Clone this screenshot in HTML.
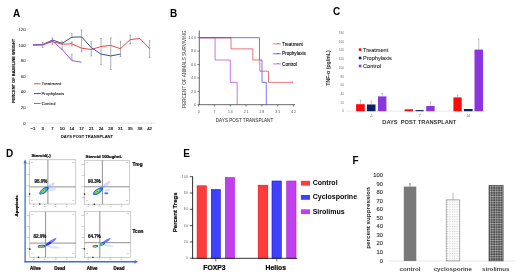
<!DOCTYPE html>
<html><head><meta charset="utf-8"><style>
html,body{margin:0;padding:0;background:#fff;overflow:hidden;}
svg{display:block;font-family:"Liberation Sans", sans-serif;}
text{-webkit-font-smoothing:antialiased;}
</style></head><body>
<svg style="will-change:transform" width="520" height="276" viewBox="0 0 520 276" font-family='"Liberation Sans", sans-serif'>
<defs><filter id="soft" x="-20%" y="-20%" width="140%" height="140%"><feGaussianBlur stdDeviation="0.35"/></filter></defs>
<rect width="520" height="276" fill="#fff"/>
<text x="13.00" y="17.20" font-size="10" text-anchor="start" font-weight="bold" fill="#000" >A</text>
<text x="25.50" y="124.50" font-size="4.2" text-anchor="end" font-weight="normal" fill="#444" stroke="#444" stroke-width="0.1">0</text>
<line x1="27.00" y1="123.00" x2="28.60" y2="123.00" stroke="#bbb" stroke-width="0.4" />
<text x="25.50" y="108.90" font-size="4.2" text-anchor="end" font-weight="normal" fill="#444" stroke="#444" stroke-width="0.1">20</text>
<line x1="27.00" y1="107.40" x2="28.60" y2="107.40" stroke="#bbb" stroke-width="0.4" />
<text x="25.50" y="93.30" font-size="4.2" text-anchor="end" font-weight="normal" fill="#444" stroke="#444" stroke-width="0.1">40</text>
<line x1="27.00" y1="91.80" x2="28.60" y2="91.80" stroke="#bbb" stroke-width="0.4" />
<text x="25.50" y="77.70" font-size="4.2" text-anchor="end" font-weight="normal" fill="#444" stroke="#444" stroke-width="0.1">60</text>
<line x1="27.00" y1="76.20" x2="28.60" y2="76.20" stroke="#bbb" stroke-width="0.4" />
<text x="25.50" y="62.10" font-size="4.2" text-anchor="end" font-weight="normal" fill="#444" stroke="#444" stroke-width="0.1">80</text>
<line x1="27.00" y1="60.60" x2="28.60" y2="60.60" stroke="#bbb" stroke-width="0.4" />
<text x="25.50" y="46.50" font-size="4.2" text-anchor="end" font-weight="normal" fill="#444" stroke="#444" stroke-width="0.1">100</text>
<line x1="27.00" y1="45.00" x2="28.60" y2="45.00" stroke="#bbb" stroke-width="0.4" />
<text x="25.50" y="30.90" font-size="4.2" text-anchor="end" font-weight="normal" fill="#444" stroke="#444" stroke-width="0.1">120</text>
<line x1="27.00" y1="29.40" x2="28.60" y2="29.40" stroke="#bbb" stroke-width="0.4" />
<line x1="28.60" y1="123.00" x2="155.50" y2="123.00" stroke="#d0d0d0" stroke-width="0.6" />
<text x="33.00" y="130.30" font-size="4.3" text-anchor="middle" font-weight="normal" fill="#222" stroke="#222" stroke-width="0.2">−1</text>
<text x="42.72" y="130.30" font-size="4.3" text-anchor="middle" font-weight="normal" fill="#222" stroke="#222" stroke-width="0.2">3</text>
<text x="52.44" y="130.30" font-size="4.3" text-anchor="middle" font-weight="normal" fill="#222" stroke="#222" stroke-width="0.2">7</text>
<text x="62.16" y="130.30" font-size="4.3" text-anchor="middle" font-weight="normal" fill="#222" stroke="#222" stroke-width="0.2">10</text>
<text x="71.88" y="130.30" font-size="4.3" text-anchor="middle" font-weight="normal" fill="#222" stroke="#222" stroke-width="0.2">14</text>
<text x="81.60" y="130.30" font-size="4.3" text-anchor="middle" font-weight="normal" fill="#222" stroke="#222" stroke-width="0.2">17</text>
<text x="91.32" y="130.30" font-size="4.3" text-anchor="middle" font-weight="normal" fill="#222" stroke="#222" stroke-width="0.2">21</text>
<text x="101.04" y="130.30" font-size="4.3" text-anchor="middle" font-weight="normal" fill="#222" stroke="#222" stroke-width="0.2">24</text>
<text x="110.76" y="130.30" font-size="4.3" text-anchor="middle" font-weight="normal" fill="#222" stroke="#222" stroke-width="0.2">28</text>
<text x="120.48" y="130.30" font-size="4.3" text-anchor="middle" font-weight="normal" fill="#222" stroke="#222" stroke-width="0.2">31</text>
<text x="130.20" y="130.30" font-size="4.3" text-anchor="middle" font-weight="normal" fill="#222" stroke="#222" stroke-width="0.2">35</text>
<text x="139.92" y="130.30" font-size="4.3" text-anchor="middle" font-weight="normal" fill="#222" stroke="#222" stroke-width="0.2">38</text>
<text x="149.64" y="130.30" font-size="4.3" text-anchor="middle" font-weight="normal" fill="#222" stroke="#222" stroke-width="0.2">42</text>
<text x="87.00" y="138.30" font-size="4.1" text-anchor="middle" font-weight="bold" fill="#000" >DAYS POST TRANSPLANT</text>
<text transform="translate(14.80,71.00) rotate(-90)" font-size="4.0" text-anchor="middle" font-weight="bold" fill="#000" stroke="#000" stroke-width="0.12">PERCENT OF BASELINE WEIGHT</text>
<line x1="42.72" y1="42.50" x2="42.72" y2="47.50" stroke="#7a7a7a" stroke-width="0.6" />
<line x1="41.92" y1="42.50" x2="43.52" y2="42.50" stroke="#7a7a7a" stroke-width="0.6" />
<line x1="41.92" y1="47.50" x2="43.52" y2="47.50" stroke="#7a7a7a" stroke-width="0.6" />
<line x1="52.44" y1="38.00" x2="52.44" y2="44.50" stroke="#7a7a7a" stroke-width="0.6" />
<line x1="51.64" y1="38.00" x2="53.24" y2="38.00" stroke="#7a7a7a" stroke-width="0.6" />
<line x1="51.64" y1="44.50" x2="53.24" y2="44.50" stroke="#7a7a7a" stroke-width="0.6" />
<line x1="62.16" y1="41.20" x2="62.16" y2="49.10" stroke="#7a7a7a" stroke-width="0.6" />
<line x1="61.36" y1="41.20" x2="62.96" y2="41.20" stroke="#7a7a7a" stroke-width="0.6" />
<line x1="61.36" y1="49.10" x2="62.96" y2="49.10" stroke="#7a7a7a" stroke-width="0.6" />
<line x1="71.88" y1="33.60" x2="71.88" y2="37.70" stroke="#7a7a7a" stroke-width="0.6" />
<line x1="71.08" y1="33.60" x2="72.68" y2="33.60" stroke="#7a7a7a" stroke-width="0.6" />
<line x1="71.08" y1="37.70" x2="72.68" y2="37.70" stroke="#7a7a7a" stroke-width="0.6" />
<line x1="71.88" y1="42.00" x2="71.88" y2="46.00" stroke="#7a7a7a" stroke-width="0.6" />
<line x1="71.08" y1="42.00" x2="72.68" y2="42.00" stroke="#7a7a7a" stroke-width="0.6" />
<line x1="71.08" y1="46.00" x2="72.68" y2="46.00" stroke="#7a7a7a" stroke-width="0.6" />
<line x1="81.60" y1="29.80" x2="81.60" y2="51.60" stroke="#7a7a7a" stroke-width="0.6" />
<line x1="80.80" y1="29.80" x2="82.40" y2="29.80" stroke="#7a7a7a" stroke-width="0.6" />
<line x1="80.80" y1="51.60" x2="82.40" y2="51.60" stroke="#7a7a7a" stroke-width="0.6" />
<line x1="91.32" y1="41.70" x2="91.32" y2="55.90" stroke="#7a7a7a" stroke-width="0.6" />
<line x1="90.52" y1="41.70" x2="92.12" y2="41.70" stroke="#7a7a7a" stroke-width="0.6" />
<line x1="90.52" y1="55.90" x2="92.12" y2="55.90" stroke="#7a7a7a" stroke-width="0.6" />
<line x1="101.04" y1="38.50" x2="101.04" y2="64.60" stroke="#7a7a7a" stroke-width="0.6" />
<line x1="100.24" y1="38.50" x2="101.84" y2="38.50" stroke="#7a7a7a" stroke-width="0.6" />
<line x1="100.24" y1="64.60" x2="101.84" y2="64.60" stroke="#7a7a7a" stroke-width="0.6" />
<line x1="110.76" y1="37.80" x2="110.76" y2="69.60" stroke="#7a7a7a" stroke-width="0.6" />
<line x1="109.96" y1="37.80" x2="111.56" y2="37.80" stroke="#7a7a7a" stroke-width="0.6" />
<line x1="109.96" y1="69.60" x2="111.56" y2="69.60" stroke="#7a7a7a" stroke-width="0.6" />
<line x1="120.48" y1="41.30" x2="120.48" y2="56.50" stroke="#7a7a7a" stroke-width="0.6" />
<line x1="119.68" y1="41.30" x2="121.28" y2="41.30" stroke="#7a7a7a" stroke-width="0.6" />
<line x1="119.68" y1="56.50" x2="121.28" y2="56.50" stroke="#7a7a7a" stroke-width="0.6" />
<line x1="130.20" y1="35.20" x2="130.20" y2="43.90" stroke="#7a7a7a" stroke-width="0.6" />
<line x1="129.40" y1="35.20" x2="131.00" y2="35.20" stroke="#7a7a7a" stroke-width="0.6" />
<line x1="129.40" y1="43.90" x2="131.00" y2="43.90" stroke="#7a7a7a" stroke-width="0.6" />
<line x1="149.64" y1="40.60" x2="149.64" y2="57.40" stroke="#7a7a7a" stroke-width="0.6" />
<line x1="148.84" y1="40.60" x2="150.44" y2="40.60" stroke="#7a7a7a" stroke-width="0.6" />
<line x1="148.84" y1="57.40" x2="150.44" y2="57.40" stroke="#7a7a7a" stroke-width="0.6" />
<line x1="71.88" y1="54.40" x2="71.88" y2="60.00" stroke="#7a7a7a" stroke-width="0.6" />
<line x1="71.08" y1="54.40" x2="72.68" y2="54.40" stroke="#7a7a7a" stroke-width="0.6" />
<line x1="71.08" y1="60.00" x2="72.68" y2="60.00" stroke="#7a7a7a" stroke-width="0.6" />
<polyline points="33.00,44.90 42.72,45.00 52.44,41.60 62.16,44.20 71.88,43.80 81.60,48.20 91.32,49.50 101.04,46.50 110.76,45.40 120.48,48.70 130.20,39.60 139.92,38.50 149.64,48.70" stroke="#e8474a" stroke-width="1.0" fill="none" stroke-linejoin="round" />
<polyline points="33.00,44.90 42.72,44.60 52.44,40.00 62.16,43.30 71.88,37.20 81.60,36.90 91.32,47.60 101.04,54.10 110.76,55.90 120.48,54.10" stroke="#3a4f8f" stroke-width="1.0" fill="none" stroke-linejoin="round" />
<polyline points="33.00,44.90 42.72,44.60 52.44,41.00 62.16,49.50 71.88,60.60 81.60,62.20" stroke="#9a5ce0" stroke-width="1.0" fill="none" stroke-linejoin="round" />
<line x1="34.00" y1="83.80" x2="40.60" y2="83.80" stroke="#e8474a" stroke-width="1.0" />
<text x="41.40" y="85.40" font-size="4.4" text-anchor="start" font-weight="normal" fill="#2a2a2a" stroke="#2a2a2a" stroke-width="0.12">Treatment</text>
<line x1="34.00" y1="93.60" x2="40.60" y2="93.60" stroke="#3a4f8f" stroke-width="1.0" />
<text x="41.40" y="95.20" font-size="4.4" text-anchor="start" font-weight="normal" fill="#2a2a2a" stroke="#2a2a2a" stroke-width="0.12">Prophylaxis</text>
<line x1="34.00" y1="103.50" x2="40.60" y2="103.50" stroke="#9a5ce0" stroke-width="1.0" />
<text x="41.40" y="105.10" font-size="4.4" text-anchor="start" font-weight="normal" fill="#2a2a2a" stroke="#2a2a2a" stroke-width="0.12">Control</text>
<text x="170.00" y="17.30" font-size="10" text-anchor="start" font-weight="bold" fill="#000" >B</text>
<line x1="199.30" y1="30.50" x2="199.30" y2="104.70" stroke="#000" stroke-width="0.6" />
<line x1="199.30" y1="104.70" x2="295.00" y2="104.70" stroke="#000" stroke-width="0.6" />
<line x1="197.50" y1="104.70" x2="199.30" y2="104.70" stroke="#000" stroke-width="0.5" />
<text x="196.00" y="105.90" font-size="3.4" text-anchor="end" font-weight="normal" fill="#444" >0</text>
<line x1="197.50" y1="91.30" x2="199.30" y2="91.30" stroke="#000" stroke-width="0.5" />
<text x="196.00" y="92.50" font-size="3.4" text-anchor="end" font-weight="normal" fill="#444" >2 0</text>
<line x1="197.50" y1="77.90" x2="199.30" y2="77.90" stroke="#000" stroke-width="0.5" />
<text x="196.00" y="79.10" font-size="3.4" text-anchor="end" font-weight="normal" fill="#444" >4 0</text>
<line x1="197.50" y1="64.50" x2="199.30" y2="64.50" stroke="#000" stroke-width="0.5" />
<text x="196.00" y="65.70" font-size="3.4" text-anchor="end" font-weight="normal" fill="#444" >6 0</text>
<line x1="197.50" y1="51.10" x2="199.30" y2="51.10" stroke="#000" stroke-width="0.5" />
<text x="196.00" y="52.30" font-size="3.4" text-anchor="end" font-weight="normal" fill="#444" >8 0</text>
<line x1="197.50" y1="37.70" x2="199.30" y2="37.70" stroke="#000" stroke-width="0.5" />
<text x="196.00" y="38.90" font-size="3.4" text-anchor="end" font-weight="normal" fill="#444" >1 0 0</text>
<line x1="198.60" y1="104.70" x2="198.60" y2="106.50" stroke="#000" stroke-width="0.5" />
<text x="198.60" y="113.20" font-size="3.4" text-anchor="middle" font-weight="normal" fill="#444" >0</text>
<line x1="214.42" y1="104.70" x2="214.42" y2="106.50" stroke="#000" stroke-width="0.5" />
<text x="214.42" y="113.20" font-size="3.4" text-anchor="middle" font-weight="normal" fill="#444" >7</text>
<line x1="230.24" y1="104.70" x2="230.24" y2="106.50" stroke="#000" stroke-width="0.5" />
<text x="230.24" y="113.20" font-size="3.4" text-anchor="middle" font-weight="normal" fill="#444" >1 4</text>
<line x1="246.06" y1="104.70" x2="246.06" y2="106.50" stroke="#000" stroke-width="0.5" />
<text x="246.06" y="113.20" font-size="3.4" text-anchor="middle" font-weight="normal" fill="#444" >2 1</text>
<line x1="261.88" y1="104.70" x2="261.88" y2="106.50" stroke="#000" stroke-width="0.5" />
<text x="261.88" y="113.20" font-size="3.4" text-anchor="middle" font-weight="normal" fill="#444" >2 8</text>
<line x1="277.70" y1="104.70" x2="277.70" y2="106.50" stroke="#000" stroke-width="0.5" />
<text x="277.70" y="113.20" font-size="3.4" text-anchor="middle" font-weight="normal" fill="#444" >3 5</text>
<line x1="293.52" y1="104.70" x2="293.52" y2="106.50" stroke="#000" stroke-width="0.5" />
<text x="293.52" y="113.20" font-size="3.4" text-anchor="middle" font-weight="normal" fill="#444" >4 2</text>
<text x="244.50" y="121.50" font-size="4.6" text-anchor="middle" font-weight="normal" fill="#222" >DAYS POST TRANSPLANT</text>
<text transform="translate(185.80,69.30) rotate(-90)" font-size="4.6" text-anchor="middle" font-weight="normal" fill="#3a3a3a" >PERCENT OF ANIMALS SURVIVING</text>
<polyline points="199.30,37.70 259.50,37.70 259.50,60.03 262.00,60.03 262.00,82.37 266.30,82.37 266.30,104.70" stroke="#4848f0" stroke-width="0.75" fill="none" stroke-linejoin="round" />
<polyline points="199.30,37.70 215.10,37.70 215.10,60.03 230.30,60.03 230.30,82.37 237.20,82.37 237.20,104.70" stroke="#b848e0" stroke-width="0.75" fill="none" stroke-linejoin="round" />
<polyline points="199.30,37.70 231.00,37.70 231.00,48.87 252.80,48.87 252.80,60.03 259.80,60.03 259.80,71.20 268.50,71.20 268.50,82.37 292.40,82.37" stroke="#e8474a" stroke-width="0.75" fill="none" stroke-linejoin="round" />
<line x1="292.40" y1="81.37" x2="292.40" y2="83.37" stroke="#e8474a" stroke-width="0.6" />
<line x1="199.60" y1="37.70" x2="231.00" y2="37.70" stroke="#b03c70" stroke-width="0.8" />
<line x1="272.80" y1="43.90" x2="280.80" y2="43.90" stroke="#e8474a" stroke-width="0.7" />
<polyline points="277.00,44.10 277.90,43.00 278.80,44.10" stroke="#e8474a" stroke-width="0.6" fill="none" stroke-linejoin="round" />
<text x="282.10" y="45.55" font-size="4.6" text-anchor="start" font-weight="normal" fill="#111" stroke="#111" stroke-width="0.12">Treatment</text>
<line x1="272.80" y1="53.80" x2="280.80" y2="53.80" stroke="#3b3bf0" stroke-width="0.7" />
<polyline points="277.00,54.00 277.90,52.90 278.80,54.00" stroke="#3b3bf0" stroke-width="0.6" fill="none" stroke-linejoin="round" />
<text x="282.10" y="55.45" font-size="4.6" text-anchor="start" font-weight="normal" fill="#111" stroke="#111" stroke-width="0.12">Prophylaxis</text>
<line x1="272.80" y1="63.90" x2="280.80" y2="63.90" stroke="#b040e0" stroke-width="0.7" />
<polyline points="277.00,64.10 277.90,63.00 278.80,64.10" stroke="#b040e0" stroke-width="0.6" fill="none" stroke-linejoin="round" />
<text x="282.10" y="65.55" font-size="4.6" text-anchor="start" font-weight="normal" fill="#111" stroke="#111" stroke-width="0.12">Control</text>
<text x="333.00" y="15.30" font-size="10" text-anchor="start" font-weight="bold" fill="#000" >C</text>
<text x="344.00" y="112.40" font-size="3.2" text-anchor="end" font-weight="normal" fill="#777" >0</text>
<text x="344.00" y="103.68" font-size="3.2" text-anchor="end" font-weight="normal" fill="#777" >20</text>
<text x="344.00" y="94.96" font-size="3.2" text-anchor="end" font-weight="normal" fill="#777" >40</text>
<text x="344.00" y="86.24" font-size="3.2" text-anchor="end" font-weight="normal" fill="#777" >60</text>
<text x="344.00" y="77.52" font-size="3.2" text-anchor="end" font-weight="normal" fill="#777" >80</text>
<text x="344.00" y="68.80" font-size="3.2" text-anchor="end" font-weight="normal" fill="#777" >100</text>
<text x="344.00" y="60.08" font-size="3.2" text-anchor="end" font-weight="normal" fill="#777" >120</text>
<text x="344.00" y="51.36" font-size="3.2" text-anchor="end" font-weight="normal" fill="#777" >140</text>
<text x="344.00" y="42.64" font-size="3.2" text-anchor="end" font-weight="normal" fill="#777" >160</text>
<text x="344.00" y="33.92" font-size="3.2" text-anchor="end" font-weight="normal" fill="#777" >180</text>
<line x1="346.60" y1="111.20" x2="487.00" y2="111.20" stroke="#dcdcdc" stroke-width="0.6" />
<text transform="translate(329.50,68.00) rotate(-90)" font-size="5.2" text-anchor="middle" font-weight="bold" fill="#333" >TNF-α (pg/mL)</text>
<line x1="360.45" y1="100.20" x2="360.45" y2="104.20" stroke="#888" stroke-width="0.5" />
<line x1="359.65" y1="100.20" x2="361.25" y2="100.20" stroke="#888" stroke-width="0.5" />
<rect x="356.10" y="104.20" width="8.70" height="7.00" fill="#ff0a0a" />
<line x1="371.25" y1="101.00" x2="371.25" y2="104.50" stroke="#888" stroke-width="0.5" />
<line x1="370.45" y1="101.00" x2="372.05" y2="101.00" stroke="#888" stroke-width="0.5" />
<rect x="367.00" y="104.50" width="8.50" height="6.70" fill="#0d1f63" />
<line x1="382.20" y1="93.50" x2="382.20" y2="96.40" stroke="#888" stroke-width="0.5" />
<line x1="381.40" y1="93.50" x2="383.00" y2="93.50" stroke="#888" stroke-width="0.5" />
<rect x="378.00" y="96.40" width="8.40" height="14.80" fill="#8a35dd" />
<rect x="404.60" y="109.30" width="8.40" height="1.90" fill="#ff0a0a" />
<rect x="415.50" y="110.10" width="8.20" height="1.10" fill="#0d1f63" />
<line x1="430.40" y1="101.70" x2="430.40" y2="106.00" stroke="#888" stroke-width="0.5" />
<line x1="429.60" y1="101.70" x2="431.20" y2="101.70" stroke="#888" stroke-width="0.5" />
<rect x="426.20" y="106.00" width="8.40" height="5.20" fill="#8a35dd" />
<line x1="457.55" y1="95.00" x2="457.55" y2="97.40" stroke="#888" stroke-width="0.5" />
<line x1="456.75" y1="95.00" x2="458.35" y2="95.00" stroke="#888" stroke-width="0.5" />
<rect x="453.40" y="97.40" width="8.30" height="13.80" fill="#ff0a0a" />
<rect x="463.90" y="109.00" width="8.70" height="2.20" fill="#0d1f63" />
<line x1="478.75" y1="39.00" x2="478.75" y2="49.60" stroke="#888" stroke-width="0.5" />
<line x1="477.95" y1="39.00" x2="479.55" y2="39.00" stroke="#888" stroke-width="0.5" />
<rect x="474.50" y="49.60" width="8.50" height="61.60" fill="#8a35dd" />
<text x="371.30" y="117.00" font-size="3.2" text-anchor="middle" font-weight="normal" fill="#555" >-1</text>
<text x="419.80" y="117.00" font-size="3.2" text-anchor="middle" font-weight="normal" fill="#555" >7</text>
<text x="468.30" y="117.00" font-size="3.2" text-anchor="middle" font-weight="normal" fill="#555" >14</text>
<text x="382.30" y="124.30" font-size="5.7" text-anchor="start" font-weight="bold" fill="#333" >DAYS&#160;&#160;POST TRANSPLANT</text>
<rect x="358.80" y="48.30" width="2.60" height="2.60" fill="#ff0a0a" />
<text x="363.00" y="51.60" font-size="5.6" text-anchor="start" font-weight="normal" fill="#2a2a2a" stroke="#2a2a2a" stroke-width="0.1">Treatment</text>
<rect x="358.80" y="56.70" width="2.60" height="2.60" fill="#0d1f63" />
<text x="363.00" y="60.00" font-size="5.6" text-anchor="start" font-weight="normal" fill="#2a2a2a" stroke="#2a2a2a" stroke-width="0.1">Prophylaxis</text>
<rect x="358.80" y="64.70" width="2.60" height="2.60" fill="#8a35dd" />
<text x="363.00" y="68.00" font-size="5.6" text-anchor="start" font-weight="normal" fill="#2a2a2a" stroke="#2a2a2a" stroke-width="0.1">Control</text>
<text x="6.00" y="157.20" font-size="10" text-anchor="start" font-weight="bold" fill="#000" >D</text>
<line x1="25.10" y1="162.00" x2="25.10" y2="262.40" stroke="#3b6fd4" stroke-width="1.3" />
<line x1="24.45" y1="261.80" x2="135.50" y2="261.80" stroke="#3b6fd4" stroke-width="1.4" />
<polygon points="25.1,159.2 23.5,163.2 26.7,163.2" fill="#3b6fd4"/>
<polygon points="138.0,261.8 134.6,259.9 134.6,263.7" fill="#3b6fd4"/>
<text x="31.40" y="157.00" font-size="4.35" text-anchor="start" font-weight="bold" fill="#000" stroke="#000" stroke-width="0.2">Steroid(-)</text>
<text x="85.60" y="157.70" font-size="4.35" text-anchor="start" font-weight="bold" fill="#000" stroke="#000" stroke-width="0.2">Steroid 100ug/mL</text>
<text transform="translate(17.90,205.90) rotate(-90)" font-size="4.3" text-anchor="middle" font-weight="bold" fill="#000" stroke="#000" stroke-width="0.2">Apoptosis</text>
<text x="132.60" y="166.30" font-size="4.7" text-anchor="start" font-weight="bold" fill="#000" stroke="#000" stroke-width="0.2">Treg</text>
<text x="132.60" y="233.10" font-size="4.7" text-anchor="start" font-weight="bold" fill="#000" stroke="#000" stroke-width="0.2">Tcon</text>
<rect x="29.60" y="159.80" width="46.20" height="44.20" fill="none" stroke="#9a9a9a" stroke-width="0.5"/>
<line x1="47.90" y1="159.80" x2="47.90" y2="204.00" stroke="#858585" stroke-width="0.9" />
<line x1="29.60" y1="186.90" x2="75.80" y2="186.90" stroke="#858585" stroke-width="0.9" />
<line x1="28.60" y1="163.80" x2="29.60" y2="163.80" stroke="#666" stroke-width="0.4" />
<text x="28.40" y="164.40" font-size="1.6" text-anchor="end" font-weight="normal" fill="#777" >10</text>
<line x1="28.60" y1="174.80" x2="29.60" y2="174.80" stroke="#666" stroke-width="0.4" />
<text x="28.40" y="175.40" font-size="1.6" text-anchor="end" font-weight="normal" fill="#777" >10</text>
<line x1="28.60" y1="185.80" x2="29.60" y2="185.80" stroke="#666" stroke-width="0.4" />
<text x="28.40" y="186.40" font-size="1.6" text-anchor="end" font-weight="normal" fill="#777" >10</text>
<line x1="28.60" y1="196.80" x2="29.60" y2="196.80" stroke="#666" stroke-width="0.4" />
<text x="28.40" y="197.40" font-size="1.6" text-anchor="end" font-weight="normal" fill="#777" >10</text>
<line x1="33.60" y1="204.00" x2="33.60" y2="205.00" stroke="#666" stroke-width="0.4" />
<text x="33.60" y="206.60" font-size="1.6" text-anchor="middle" font-weight="normal" fill="#777" >10</text>
<line x1="44.60" y1="204.00" x2="44.60" y2="205.00" stroke="#666" stroke-width="0.4" />
<text x="44.60" y="206.60" font-size="1.6" text-anchor="middle" font-weight="normal" fill="#777" >10</text>
<line x1="55.60" y1="204.00" x2="55.60" y2="205.00" stroke="#666" stroke-width="0.4" />
<text x="55.60" y="206.60" font-size="1.6" text-anchor="middle" font-weight="normal" fill="#777" >10</text>
<line x1="66.60" y1="204.00" x2="66.60" y2="205.00" stroke="#666" stroke-width="0.4" />
<text x="66.60" y="206.60" font-size="1.6" text-anchor="middle" font-weight="normal" fill="#777" >10</text>
<text x="31.10" y="162.80" font-size="1.6" text-anchor="start" font-weight="normal" fill="#888" >Q1</text>
<text x="74.30" y="162.80" font-size="1.6" text-anchor="end" font-weight="normal" fill="#888" >Q2</text>
<text x="31.10" y="200.80" font-size="1.6" text-anchor="start" font-weight="normal" fill="#888" >Q4</text>
<text x="74.30" y="200.80" font-size="1.6" text-anchor="end" font-weight="normal" fill="#888" >Q3</text>
<text x="34.60" y="182.60" font-size="4.5" text-anchor="start" font-weight="bold" fill="#111" stroke="#111" stroke-width="0.2">95.0%</text>
<rect x="28.90" y="193.38" width="1.40" height="1.40" fill="#222" />
<rect x="38.96" y="203.40" width="1.40" height="1.20" fill="#222" />
<g filter="url(#soft)">
<ellipse cx="0" cy="0" rx="5.5" ry="1.6" fill="#8fa0ff" opacity="0.35" transform="translate(50.50,186.00) rotate(-40)"/>
<ellipse cx="0" cy="0" rx="3.5" ry="1.4" fill="#a0b0ff" opacity="0.35" transform="translate(52.50,189.50) rotate(-10)"/>
<ellipse cx="0" cy="0" rx="5.6" ry="2.4" fill="#2a3cff" opacity="1.0" transform="translate(44.00,190.60) rotate(-37)"/>
<ellipse cx="0" cy="0" rx="4.367999999999999" ry="1.8239999999999998" fill="#12b4ee" opacity="1.0" transform="translate(43.70,190.75) rotate(-37)"/>
<ellipse cx="0" cy="0" rx="3.2479999999999998" ry="1.344" fill="#30d040" opacity="1.0" transform="translate(43.50,190.85) rotate(-37)"/>
<ellipse cx="0" cy="0" rx="2.016" ry="0.96" fill="#f0e020" opacity="1.0" transform="translate(43.30,190.90) rotate(-37)"/>
<ellipse cx="0" cy="0" rx="0.8959999999999999" ry="0.528" fill="#f03020" opacity="1.0" transform="translate(43.20,190.95) rotate(-37)"/>
</g>
<rect x="84.50" y="160.20" width="45.00" height="44.00" fill="none" stroke="#9a9a9a" stroke-width="0.5"/>
<line x1="102.40" y1="160.20" x2="102.40" y2="204.20" stroke="#858585" stroke-width="0.9" />
<line x1="84.50" y1="186.80" x2="129.50" y2="186.80" stroke="#858585" stroke-width="0.9" />
<line x1="83.50" y1="164.20" x2="84.50" y2="164.20" stroke="#666" stroke-width="0.4" />
<text x="83.30" y="164.80" font-size="1.6" text-anchor="end" font-weight="normal" fill="#777" >10</text>
<line x1="83.50" y1="175.20" x2="84.50" y2="175.20" stroke="#666" stroke-width="0.4" />
<text x="83.30" y="175.80" font-size="1.6" text-anchor="end" font-weight="normal" fill="#777" >10</text>
<line x1="83.50" y1="186.20" x2="84.50" y2="186.20" stroke="#666" stroke-width="0.4" />
<text x="83.30" y="186.80" font-size="1.6" text-anchor="end" font-weight="normal" fill="#777" >10</text>
<line x1="83.50" y1="197.20" x2="84.50" y2="197.20" stroke="#666" stroke-width="0.4" />
<text x="83.30" y="197.80" font-size="1.6" text-anchor="end" font-weight="normal" fill="#777" >10</text>
<line x1="88.50" y1="204.20" x2="88.50" y2="205.20" stroke="#666" stroke-width="0.4" />
<text x="88.50" y="206.80" font-size="1.6" text-anchor="middle" font-weight="normal" fill="#777" >10</text>
<line x1="99.50" y1="204.20" x2="99.50" y2="205.20" stroke="#666" stroke-width="0.4" />
<text x="99.50" y="206.80" font-size="1.6" text-anchor="middle" font-weight="normal" fill="#777" >10</text>
<line x1="110.50" y1="204.20" x2="110.50" y2="205.20" stroke="#666" stroke-width="0.4" />
<text x="110.50" y="206.80" font-size="1.6" text-anchor="middle" font-weight="normal" fill="#777" >10</text>
<line x1="121.50" y1="204.20" x2="121.50" y2="205.20" stroke="#666" stroke-width="0.4" />
<text x="121.50" y="206.80" font-size="1.6" text-anchor="middle" font-weight="normal" fill="#777" >10</text>
<text x="86.00" y="163.20" font-size="1.6" text-anchor="start" font-weight="normal" fill="#888" >Q1</text>
<text x="128.00" y="163.20" font-size="1.6" text-anchor="end" font-weight="normal" fill="#888" >Q2</text>
<text x="86.00" y="201.00" font-size="1.6" text-anchor="start" font-weight="normal" fill="#888" >Q4</text>
<text x="128.00" y="201.00" font-size="1.6" text-anchor="end" font-weight="normal" fill="#888" >Q3</text>
<text x="88.00" y="182.70" font-size="4.5" text-anchor="start" font-weight="bold" fill="#111" stroke="#111" stroke-width="0.2">90.3%</text>
<rect x="83.80" y="193.41" width="1.40" height="1.40" fill="#222" />
<rect x="93.64" y="203.60" width="1.40" height="1.20" fill="#222" />
<g filter="url(#soft)">
<ellipse cx="0" cy="0" rx="7.0" ry="1.5" fill="#8fa0ff" opacity="0.4" transform="translate(105.00,185.50) rotate(-40)"/>
<ellipse cx="0" cy="0" rx="2.2" ry="1.1" fill="#3050ff" opacity="0.8" transform="translate(106.30,193.30) rotate(0)"/>
<ellipse cx="0" cy="0" rx="3.0" ry="1.2" fill="#a0b0ff" opacity="0.4" transform="translate(107.50,190.00) rotate(-20)"/>
<ellipse cx="0" cy="0" rx="5.8" ry="2.5" fill="#2a3cff" opacity="1.0" transform="translate(98.00,191.20) rotate(-35)"/>
<ellipse cx="0" cy="0" rx="4.524" ry="1.9" fill="#12b4ee" opacity="1.0" transform="translate(97.70,191.35) rotate(-35)"/>
<ellipse cx="0" cy="0" rx="3.364" ry="1.4000000000000001" fill="#30d040" opacity="1.0" transform="translate(97.50,191.45) rotate(-35)"/>
<ellipse cx="0" cy="0" rx="2.088" ry="1.0" fill="#f0e020" opacity="1.0" transform="translate(97.30,191.50) rotate(-35)"/>
<ellipse cx="0" cy="0" rx="0.9279999999999999" ry="0.55" fill="#f03020" opacity="1.0" transform="translate(97.20,191.55) rotate(-35)"/>
</g>
<rect x="29.80" y="211.80" width="46.00" height="45.40" fill="none" stroke="#9a9a9a" stroke-width="0.5"/>
<line x1="45.60" y1="211.80" x2="45.60" y2="257.20" stroke="#858585" stroke-width="0.9" />
<line x1="29.80" y1="243.10" x2="75.80" y2="243.10" stroke="#858585" stroke-width="0.9" />
<line x1="28.80" y1="215.80" x2="29.80" y2="215.80" stroke="#666" stroke-width="0.4" />
<text x="28.60" y="216.40" font-size="1.6" text-anchor="end" font-weight="normal" fill="#777" >10</text>
<line x1="28.80" y1="226.80" x2="29.80" y2="226.80" stroke="#666" stroke-width="0.4" />
<text x="28.60" y="227.40" font-size="1.6" text-anchor="end" font-weight="normal" fill="#777" >10</text>
<line x1="28.80" y1="237.80" x2="29.80" y2="237.80" stroke="#666" stroke-width="0.4" />
<text x="28.60" y="238.40" font-size="1.6" text-anchor="end" font-weight="normal" fill="#777" >10</text>
<line x1="28.80" y1="248.80" x2="29.80" y2="248.80" stroke="#666" stroke-width="0.4" />
<text x="28.60" y="249.40" font-size="1.6" text-anchor="end" font-weight="normal" fill="#777" >10</text>
<line x1="33.80" y1="257.20" x2="33.80" y2="258.20" stroke="#666" stroke-width="0.4" />
<text x="33.80" y="259.80" font-size="1.6" text-anchor="middle" font-weight="normal" fill="#777" >10</text>
<line x1="44.80" y1="257.20" x2="44.80" y2="258.20" stroke="#666" stroke-width="0.4" />
<text x="44.80" y="259.80" font-size="1.6" text-anchor="middle" font-weight="normal" fill="#777" >10</text>
<line x1="55.80" y1="257.20" x2="55.80" y2="258.20" stroke="#666" stroke-width="0.4" />
<text x="55.80" y="259.80" font-size="1.6" text-anchor="middle" font-weight="normal" fill="#777" >10</text>
<line x1="66.80" y1="257.20" x2="66.80" y2="258.20" stroke="#666" stroke-width="0.4" />
<text x="66.80" y="259.80" font-size="1.6" text-anchor="middle" font-weight="normal" fill="#777" >10</text>
<text x="31.30" y="214.80" font-size="1.6" text-anchor="start" font-weight="normal" fill="#888" >Q1</text>
<text x="74.30" y="214.80" font-size="1.6" text-anchor="end" font-weight="normal" fill="#888" >Q2</text>
<text x="31.30" y="254.00" font-size="1.6" text-anchor="start" font-weight="normal" fill="#888" >Q4</text>
<text x="74.30" y="254.00" font-size="1.6" text-anchor="end" font-weight="normal" fill="#888" >Q3</text>
<text x="33.40" y="237.80" font-size="4.5" text-anchor="start" font-weight="bold" fill="#111" stroke="#111" stroke-width="0.2">82.0%</text>
<rect x="29.10" y="248.32" width="1.40" height="1.40" fill="#222" />
<rect x="37.79" y="256.60" width="1.40" height="1.20" fill="#222" />
<g filter="url(#soft)">
<ellipse cx="0" cy="0" rx="7.0" ry="1.2" fill="#a0b0ff" opacity="0.35" transform="translate(53.00,247.00) rotate(8)"/>
<ellipse cx="0" cy="0" rx="6.5" ry="1.3" fill="#4a64ff" opacity="0.85" transform="translate(51.00,241.80) rotate(-33)"/>
<ellipse cx="0" cy="0" rx="3.2" ry="1.2" fill="#1f35ff" opacity="1" transform="translate(48.50,243.80) rotate(-30)"/>
<ellipse cx="0" cy="0" rx="3.8" ry="1.5" fill="#2a3cff" opacity="1.0" transform="translate(41.60,246.30) rotate(-5)"/>
<ellipse cx="0" cy="0" rx="2.964" ry="1.1400000000000001" fill="#12b4ee" opacity="1.0" transform="translate(41.30,246.45) rotate(-5)"/>
<ellipse cx="0" cy="0" rx="2.2039999999999997" ry="0.8400000000000001" fill="#30d040" opacity="1.0" transform="translate(41.10,246.55) rotate(-5)"/>
<ellipse cx="0" cy="0" rx="1.3679999999999999" ry="0.6000000000000001" fill="#f0e020" opacity="1.0" transform="translate(40.90,246.60) rotate(-5)"/>
<ellipse cx="0" cy="0" rx="0.608" ry="0.33" fill="#f03020" opacity="1.0" transform="translate(40.80,246.65) rotate(-5)"/>
</g>
<rect x="84.40" y="211.40" width="46.10" height="45.90" fill="none" stroke="#9a9a9a" stroke-width="0.5"/>
<line x1="99.80" y1="211.40" x2="99.80" y2="257.30" stroke="#858585" stroke-width="0.9" />
<line x1="84.40" y1="242.70" x2="130.50" y2="242.70" stroke="#858585" stroke-width="0.9" />
<line x1="83.40" y1="215.40" x2="84.40" y2="215.40" stroke="#666" stroke-width="0.4" />
<text x="83.20" y="216.00" font-size="1.6" text-anchor="end" font-weight="normal" fill="#777" >10</text>
<line x1="83.40" y1="226.40" x2="84.40" y2="226.40" stroke="#666" stroke-width="0.4" />
<text x="83.20" y="227.00" font-size="1.6" text-anchor="end" font-weight="normal" fill="#777" >10</text>
<line x1="83.40" y1="237.40" x2="84.40" y2="237.40" stroke="#666" stroke-width="0.4" />
<text x="83.20" y="238.00" font-size="1.6" text-anchor="end" font-weight="normal" fill="#777" >10</text>
<line x1="83.40" y1="248.40" x2="84.40" y2="248.40" stroke="#666" stroke-width="0.4" />
<text x="83.20" y="249.00" font-size="1.6" text-anchor="end" font-weight="normal" fill="#777" >10</text>
<line x1="88.40" y1="257.30" x2="88.40" y2="258.30" stroke="#666" stroke-width="0.4" />
<text x="88.40" y="259.90" font-size="1.6" text-anchor="middle" font-weight="normal" fill="#777" >10</text>
<line x1="99.40" y1="257.30" x2="99.40" y2="258.30" stroke="#666" stroke-width="0.4" />
<text x="99.40" y="259.90" font-size="1.6" text-anchor="middle" font-weight="normal" fill="#777" >10</text>
<line x1="110.40" y1="257.30" x2="110.40" y2="258.30" stroke="#666" stroke-width="0.4" />
<text x="110.40" y="259.90" font-size="1.6" text-anchor="middle" font-weight="normal" fill="#777" >10</text>
<line x1="121.40" y1="257.30" x2="121.40" y2="258.30" stroke="#666" stroke-width="0.4" />
<text x="121.40" y="259.90" font-size="1.6" text-anchor="middle" font-weight="normal" fill="#777" >10</text>
<text x="85.90" y="214.40" font-size="1.6" text-anchor="start" font-weight="normal" fill="#888" >Q1</text>
<text x="129.00" y="214.40" font-size="1.6" text-anchor="end" font-weight="normal" fill="#888" >Q2</text>
<text x="85.90" y="254.10" font-size="1.6" text-anchor="start" font-weight="normal" fill="#888" >Q4</text>
<text x="129.00" y="254.10" font-size="1.6" text-anchor="end" font-weight="normal" fill="#888" >Q3</text>
<text x="88.00" y="237.80" font-size="4.5" text-anchor="start" font-weight="bold" fill="#111" stroke="#111" stroke-width="0.2">64.7%</text>
<rect x="83.70" y="248.13" width="1.40" height="1.40" fill="#222" />
<rect x="92.17" y="256.70" width="1.40" height="1.20" fill="#222" />
<g filter="url(#soft)">
<ellipse cx="0" cy="0" rx="6.5" ry="0.9" fill="#a0b0ff" opacity="0.4" transform="translate(107.50,245.50) rotate(10)"/>
<ellipse cx="0" cy="0" rx="6.0" ry="1.2" fill="#4a64ff" opacity="0.85" transform="translate(105.50,241.50) rotate(-33)"/>
<ellipse cx="0" cy="0" rx="2.6" ry="1.3" fill="#2a3cff" opacity="1.0" transform="translate(102.40,244.00) rotate(-25)"/>
<ellipse cx="0" cy="0" rx="2.028" ry="0.9880000000000001" fill="#12b4ee" opacity="1.0" transform="translate(102.10,244.15) rotate(-25)"/>
<ellipse cx="0" cy="0" rx="1.508" ry="0.7280000000000001" fill="#30d040" opacity="1.0" transform="translate(101.90,244.25) rotate(-25)"/>
<ellipse cx="0" cy="0" rx="0.9359999999999999" ry="0.52" fill="#f0e020" opacity="1.0" transform="translate(101.70,244.30) rotate(-25)"/>
<ellipse cx="0" cy="0" rx="0.41600000000000004" ry="0.28600000000000003" fill="#f03020" opacity="1.0" transform="translate(101.60,244.35) rotate(-25)"/>
<ellipse cx="0" cy="0" rx="2.9" ry="1.2" fill="#2a3cff" opacity="1.0" transform="translate(95.40,246.20) rotate(-5)"/>
<ellipse cx="0" cy="0" rx="2.262" ry="0.9119999999999999" fill="#12b4ee" opacity="1.0" transform="translate(95.10,246.35) rotate(-5)"/>
<ellipse cx="0" cy="0" rx="1.682" ry="0.672" fill="#30d040" opacity="1.0" transform="translate(94.90,246.45) rotate(-5)"/>
<ellipse cx="0" cy="0" rx="1.044" ry="0.48" fill="#f0e020" opacity="1.0" transform="translate(94.70,246.50) rotate(-5)"/>
<ellipse cx="0" cy="0" rx="0.46399999999999997" ry="0.264" fill="#f03020" opacity="1.0" transform="translate(94.60,246.55) rotate(-5)"/>
</g>
<text x="35.30" y="269.50" font-size="4.5" text-anchor="middle" font-weight="bold" fill="#000" stroke="#000" stroke-width="0.2">Alive</text>
<text x="59.80" y="269.50" font-size="4.5" text-anchor="middle" font-weight="bold" fill="#000" stroke="#000" stroke-width="0.2">Dead</text>
<text x="92.20" y="269.50" font-size="4.5" text-anchor="middle" font-weight="bold" fill="#000" stroke="#000" stroke-width="0.2">Alive</text>
<text x="118.90" y="269.50" font-size="4.5" text-anchor="middle" font-weight="bold" fill="#000" stroke="#000" stroke-width="0.2">Dead</text>
<text x="183.20" y="157.20" font-size="10" text-anchor="start" font-weight="bold" fill="#000" >E</text>
<line x1="189.80" y1="176.70" x2="192.60" y2="176.70" stroke="#222" stroke-width="0.8" />
<text x="187.60" y="177.60" font-size="2.6" text-anchor="end" font-weight="normal" fill="#333" >1 0 0</text>
<line x1="189.80" y1="193.00" x2="192.60" y2="193.00" stroke="#222" stroke-width="0.8" />
<text x="187.60" y="193.90" font-size="2.6" text-anchor="end" font-weight="normal" fill="#333" >8 0</text>
<line x1="189.80" y1="209.30" x2="192.60" y2="209.30" stroke="#222" stroke-width="0.8" />
<text x="187.60" y="210.20" font-size="2.6" text-anchor="end" font-weight="normal" fill="#333" >6 0</text>
<line x1="189.80" y1="225.60" x2="192.60" y2="225.60" stroke="#222" stroke-width="0.8" />
<text x="187.60" y="226.50" font-size="2.6" text-anchor="end" font-weight="normal" fill="#333" >4 0</text>
<line x1="189.80" y1="241.90" x2="192.60" y2="241.90" stroke="#222" stroke-width="0.8" />
<text x="187.60" y="242.80" font-size="2.6" text-anchor="end" font-weight="normal" fill="#333" >2 0</text>
<line x1="189.80" y1="258.20" x2="192.60" y2="258.20" stroke="#222" stroke-width="0.8" />
<text x="187.60" y="259.10" font-size="2.6" text-anchor="end" font-weight="normal" fill="#333" >0</text>
<line x1="215.80" y1="258.30" x2="215.80" y2="261.30" stroke="#222" stroke-width="0.7" />
<line x1="276.80" y1="258.30" x2="276.80" y2="261.30" stroke="#222" stroke-width="0.7" />
<rect x="197.10" y="185.80" width="9.20" height="72.50" fill="#ff3c3c" stroke="#e01010" stroke-width="0.6"/>
<rect x="211.30" y="189.60" width="9.00" height="68.70" fill="#4040ff" stroke="#1010e0" stroke-width="0.6"/>
<rect x="225.40" y="177.60" width="9.10" height="80.70" fill="#c040ee" stroke="#a020d0" stroke-width="0.6"/>
<rect x="258.20" y="185.20" width="9.60" height="73.10" fill="#ff3c3c" stroke="#e01010" stroke-width="0.6"/>
<rect x="272.00" y="181.00" width="9.30" height="77.30" fill="#4040ff" stroke="#1010e0" stroke-width="0.6"/>
<rect x="286.70" y="181.00" width="9.30" height="77.30" fill="#c040ee" stroke="#a020d0" stroke-width="0.6"/>
<line x1="192.60" y1="176.30" x2="192.60" y2="258.80" stroke="#1a1a1a" stroke-width="0.9" />
<line x1="192.20" y1="258.30" x2="297.20" y2="258.30" stroke="#1a1a1a" stroke-width="0.9" />
<text x="214.45" y="270.00" font-size="6.8" text-anchor="middle" font-weight="bold" fill="#000" stroke="#000" stroke-width="0.18">FOXP3</text>
<text x="275.80" y="270.00" font-size="6.8" text-anchor="middle" font-weight="bold" fill="#000" stroke="#000" stroke-width="0.18">Helios</text>
<text transform="translate(177.00,212.30) rotate(-90)" font-size="6.0" text-anchor="middle" font-weight="bold" fill="#000" stroke="#000" stroke-width="0.18">Percent Tregs</text>
<rect x="300.90" y="180.80" width="9.10" height="4.80" fill="#ff3c3c" />
<text x="312.70" y="185.10" font-size="7.0" text-anchor="start" font-weight="bold" fill="#000" >Control</text>
<rect x="300.90" y="195.00" width="9.10" height="4.80" fill="#4040ff" />
<text x="312.70" y="199.30" font-size="7.0" text-anchor="start" font-weight="bold" fill="#000" >Cyclosporine</text>
<rect x="300.90" y="209.30" width="9.10" height="4.80" fill="#c040ee" />
<text x="312.70" y="213.60" font-size="7.0" text-anchor="start" font-weight="bold" fill="#000" >Sirolimus</text>
<text x="352.50" y="164.10" font-size="10" text-anchor="start" font-weight="bold" fill="#000" >F</text>
<text x="383.00" y="262.50" font-size="5.8" text-anchor="end" font-weight="normal" fill="#333" stroke="#333" stroke-width="0.12">0</text>
<text x="383.00" y="253.98" font-size="5.8" text-anchor="end" font-weight="normal" fill="#333" stroke="#333" stroke-width="0.12">10</text>
<text x="383.00" y="245.46" font-size="5.8" text-anchor="end" font-weight="normal" fill="#333" stroke="#333" stroke-width="0.12">20</text>
<text x="383.00" y="236.94" font-size="5.8" text-anchor="end" font-weight="normal" fill="#333" stroke="#333" stroke-width="0.12">30</text>
<text x="383.00" y="228.42" font-size="5.8" text-anchor="end" font-weight="normal" fill="#333" stroke="#333" stroke-width="0.12">40</text>
<text x="383.00" y="219.90" font-size="5.8" text-anchor="end" font-weight="normal" fill="#333" stroke="#333" stroke-width="0.12">50</text>
<text x="383.00" y="211.38" font-size="5.8" text-anchor="end" font-weight="normal" fill="#333" stroke="#333" stroke-width="0.12">60</text>
<text x="383.00" y="202.86" font-size="5.8" text-anchor="end" font-weight="normal" fill="#333" stroke="#333" stroke-width="0.12">70</text>
<text x="383.00" y="194.34" font-size="5.8" text-anchor="end" font-weight="normal" fill="#333" stroke="#333" stroke-width="0.12">80</text>
<text x="383.00" y="185.82" font-size="5.8" text-anchor="end" font-weight="normal" fill="#333" stroke="#333" stroke-width="0.12">90</text>
<text x="383.00" y="177.30" font-size="5.8" text-anchor="end" font-weight="normal" fill="#333" stroke="#333" stroke-width="0.12">100</text>
<line x1="388.60" y1="261.00" x2="515.40" y2="261.00" stroke="#d6d6d6" stroke-width="0.6" />
<text transform="translate(369.80,218.00) rotate(-90)" font-size="6.25" text-anchor="middle" font-weight="bold" fill="#222" >percent suppression</text>
<line x1="410.00" y1="183.80" x2="410.00" y2="186.80" stroke="#555" stroke-width="0.6" />
<line x1="409.00" y1="183.80" x2="411.00" y2="183.80" stroke="#555" stroke-width="0.6" />
<rect x="403.80" y="186.60" width="12.50" height="74.40" fill="#797979" />
<defs><pattern id="dots" x="447.2" y="201.6" width="2.35" height="2.45" patternUnits="userSpaceOnUse"><rect width="2.35" height="2.45" fill="#fdfdfd"/><rect width="1" height="1" fill="#c4c4c4"/></pattern><pattern id="grid" x="490.0" y="186.3" width="2.45" height="2.45" patternUnits="userSpaceOnUse"><rect width="2.45" height="2.45" fill="#4a4a4a"/><rect x="0" y="0" width="2.45" height="0.9" fill="#8e8e8e"/><rect x="0" y="0" width="0.9" height="2.45" fill="#8e8e8e"/><rect x="0" y="0" width="0.9" height="0.9" fill="#b0b0b0"/></pattern></defs>
<line x1="453.00" y1="192.70" x2="453.00" y2="199.90" stroke="#a8a8a8" stroke-width="0.8" />
<rect x="446.2" y="199.9" width="13.6" height="61" fill="url(#dots)" stroke="#7a7a7a" stroke-width="0.6"/>
<rect x="489.0" y="185.5" width="14.1" height="75.4" fill="url(#grid)" stroke="#333" stroke-width="0.6"/>
<text x="410.05" y="271.20" font-size="6.2" text-anchor="middle" font-weight="bold" fill="#444" >control</text>
<text x="452.75" y="271.20" font-size="6.2" text-anchor="middle" font-weight="bold" fill="#444" >cyclosporine</text>
<text x="495.80" y="271.20" font-size="6.2" text-anchor="middle" font-weight="bold" fill="#444" >sirolimus</text>
</svg>
</body></html>
